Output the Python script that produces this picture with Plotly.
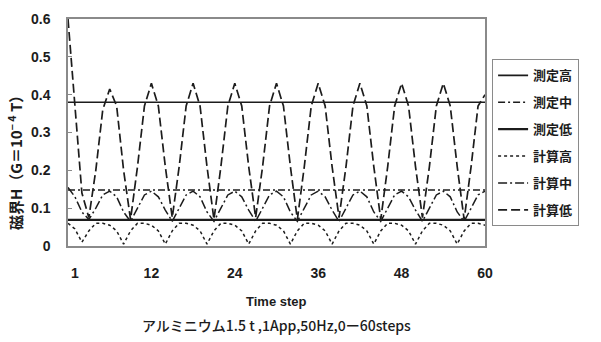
import plotly.graph_objects as go

# Time steps 0..60
steps = list(range(0, 61))

# Measured field levels (constant over the run)
meas_high = 0.38
meas_mid = 0.148
meas_low = 0.069

# Calculated field, long-dash series (計算低)
calc_low = [
    0.60, 0.38, 0.14, 0.075, 0.20, 0.36,
    0.415, 0.37, 0.20, 0.07, 0.21, 0.37,
    0.43, 0.37, 0.21, 0.075, 0.21, 0.37,
    0.43, 0.37, 0.21, 0.07, 0.21, 0.37,
    0.43, 0.37, 0.21, 0.075, 0.21, 0.37,
    0.43, 0.37, 0.21, 0.07, 0.21, 0.37,
    0.43, 0.37, 0.21, 0.075, 0.21, 0.37,
    0.43, 0.37, 0.21, 0.07, 0.21, 0.37,
    0.43, 0.37, 0.21, 0.075, 0.21, 0.37,
    0.43, 0.37, 0.21, 0.07, 0.21, 0.37,
    0.40,
]

# Calculated field, dash-dot series (計算中)
calc_mid = [
    0.155, 0.13, 0.09, 0.07, 0.10, 0.135,
    0.145, 0.13, 0.09, 0.065, 0.10, 0.135,
    0.145, 0.13, 0.095, 0.065, 0.10, 0.135,
    0.145, 0.13, 0.09, 0.065, 0.10, 0.135,
    0.145, 0.13, 0.095, 0.065, 0.10, 0.135,
    0.145, 0.13, 0.09, 0.065, 0.10, 0.135,
    0.145, 0.13, 0.095, 0.065, 0.10, 0.135,
    0.145, 0.13, 0.09, 0.065, 0.10, 0.135,
    0.145, 0.13, 0.095, 0.065, 0.10, 0.135,
    0.145, 0.13, 0.09, 0.065, 0.10, 0.135,
    0.145,
]

# Calculated field, short-dash series (計算高)
calc_high = [
    0.06, 0.045, 0.01, 0.04, 0.06, 0.06,
    0.055, 0.04, 0.005, 0.04, 0.06, 0.06,
    0.055, 0.04, 0.005, 0.04, 0.06, 0.06,
    0.055, 0.04, 0.005, 0.04, 0.06, 0.06,
    0.055, 0.04, 0.005, 0.04, 0.06, 0.06,
    0.055, 0.04, 0.005, 0.04, 0.06, 0.06,
    0.055, 0.04, 0.005, 0.04, 0.06, 0.06,
    0.055, 0.04, 0.005, 0.04, 0.06, 0.06,
    0.055, 0.04, 0.005, 0.04, 0.06, 0.06,
    0.055, 0.04, 0.005, 0.04, 0.06, 0.06,
    0.055,
]

x_tickvals = [1, 12, 24, 36, 48, 60]
y_tickvals = [0, 0.1, 0.2, 0.3, 0.4, 0.5, 0.6]

INK = "#1c1c1c"
FRAME = "#8a8a8a"
LAT = "Liberation Sans"
CJK = "Noto Sans CJK JP"

series = [
    ("測定高", [meas_high] * len(steps), "solid", 1.6),
    ("測定中", [meas_mid] * len(steps), "7px,3px,2px,3px", 1.4),
    ("測定低", [meas_low] * len(steps), "solid", 2.4),
    ("計算高", calc_high, "3px,3px", 1.5),
    ("計算中", calc_mid, "9px,3px,2px,3px", 1.5),
    ("計算低", calc_low, "9px,4px", 1.7),
]

fig = go.Figure()
for i, (name, ys, dash, w) in enumerate(series):
    fig.add_trace(go.Scatter(
        x=steps, y=ys, mode="lines", name=name, legendgroup=f"g{i}",
        line=dict(color=INK, width=w, dash=dash),
    ))

fig.update_layout(
    width=601, height=342,
    margin=dict(l=68, r=116, t=11, b=96),
    paper_bgcolor="white", plot_bgcolor="white",
    showlegend=True,
    legend=dict(
        x=1.017, y=0.822, xanchor="left", yanchor="top",
        bordercolor=FRAME, borderwidth=1,
        font=dict(family=CJK, size=13, color=INK, weight="bold"),
        tracegroupgap=7, itemwidth=30,
    ),
    xaxis=dict(
        range=[0, 60], tickvals=x_tickvals, ticktext=[str(v) for v in x_tickvals],
        showgrid=False, zeroline=False, showline=True, mirror=True,
        linecolor=FRAME, linewidth=1.5, ticks="",
        tickfont=dict(family=LAT, size=14, color=INK, weight="bold"),
        ticklabelstandoff=13,
    ),
    yaxis=dict(
        range=[0, 0.6], tickvals=y_tickvals,
        ticktext=["0", "0.1", "0.2", "0.3", "0.4", "0.5", "0.6"],
        showgrid=False, zeroline=False, showline=True, mirror=True,
        linecolor=FRAME, linewidth=1.5, ticks="inside", ticklen=4,
        tickcolor=FRAME,
        tickfont=dict(family=LAT, size=14, color=INK, weight="bold"),
        ticklabelstandoff=13,
    ),
)

fig.add_annotation(
    text="Time step", xref="paper", yref="paper", x=0.5, y=-0.243,
    showarrow=False, xanchor="center", yanchor="middle",
    font=dict(family=LAT, size=13, color=INK, weight="bold"),
)
fig.add_annotation(
    text="アルミニウム1.5 t ,1App,50Hz,0ー60steps", xref="paper", yref="paper",
    x=0.5, y=-0.35, showarrow=False, xanchor="center", yanchor="middle",
    font=dict(family=CJK, size=14, color=INK, weight=500),
)
fig.add_annotation(
    text="磁界H（G＝10<sup>− 4</sup> T）", xref="paper", yref="paper",
    x=-0.127, y=0.383, textangle=-90, showarrow=False,
    xanchor="center", yanchor="middle",
    font=dict(family=CJK, size=15, color=INK, weight="bold"),
)

fig.write_html("out.html")
